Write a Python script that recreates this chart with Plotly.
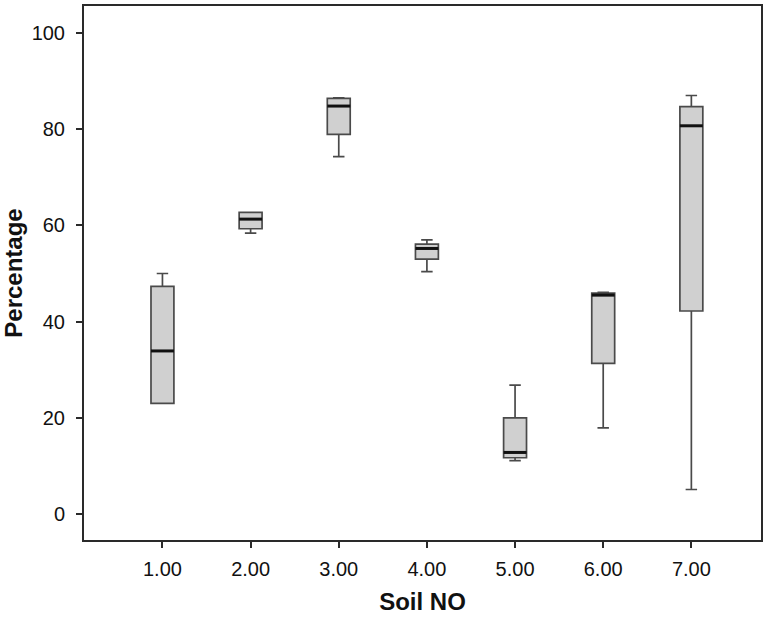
import plotly.graph_objects as go

# Percentage by soil number: five-number summaries per soil
soil_no = [1, 2, 3, 4, 5, 6, 7]
soil_labels = ["1.00", "2.00", "3.00", "4.00", "5.00", "6.00", "7.00"]
lower_fence = [23.0, 58.4, 74.3, 50.4, 11.1, 17.9, 5.1]
q1 = [23.0, 59.3, 78.9, 53.0, 11.7, 31.3, 42.2]
median = [33.9, 61.3, 84.8, 55.2, 12.8, 45.5, 80.7]
q3 = [47.3, 62.7, 86.4, 56.1, 20.0, 45.9, 84.7]
upper_fence = [50.0, 62.7, 86.5, 57.0, 26.8, 46.1, 87.0]
y_ticks = [0, 20, 40, 60, 80, 100]

BOX_W = 0.26
FONT = "Liberation Sans, Arial, sans-serif"

fig = go.Figure()

for i in range(len(soil_no)):
    fig.add_trace(go.Box(
        x=[soil_no[i]],
        q1=[q1[i]], median=[median[i]], q3=[q3[i]],
        lowerfence=[lower_fence[i]], upperfence=[upper_fence[i]],
        width=BOX_W,
        whiskerwidth=0.5,
        fillcolor="#d0d0d0",
        line=dict(color="#4a4a4a", width=1.7),
        showlegend=False,
        hoverinfo="skip",
    ))

# Heavier median strokes drawn over each box
mx, my = [], []
for s, m in zip(soil_no, median):
    mx += [s - BOX_W / 2, s + BOX_W / 2, None]
    my += [m, m, None]
fig.add_trace(go.Scatter(
    x=mx, y=my, mode="lines",
    line=dict(color="#111111", width=3),
    showlegend=False, hoverinfo="skip",
))

axis_common = dict(
    showline=True, linecolor="#2a2a2a", linewidth=2, mirror=True,
    ticks="outside", ticklen=6, tickwidth=2, tickcolor="#2a2a2a",
    showgrid=False, zeroline=False,
    tickfont=dict(family=FONT, size=20, color="#111111"),
)

fig.update_layout(
    width=765, height=617,
    paper_bgcolor="white", plot_bgcolor="white",
    margin=dict(l=84, r=2, t=6, b=77),
    xaxis=dict(
        range=[0.11, 7.79],
        tickvals=soil_no, ticktext=soil_labels,
        ticklabelstandoff=4,
        title=dict(text="<b>Soil NO</b>", font=dict(family=FONT, size=24, color="#111111"), standoff=14),
        **axis_common,
    ),
    yaxis=dict(
        range=[-5.4, 105.6],
        tickvals=y_ticks,
        ticklabelstandoff=7,
        title=dict(text="<b>Percentage</b>", font=dict(family=FONT, size=24, color="#111111"), standoff=3),
        **axis_common,
    ),
)

fig.write_html("out.html")
